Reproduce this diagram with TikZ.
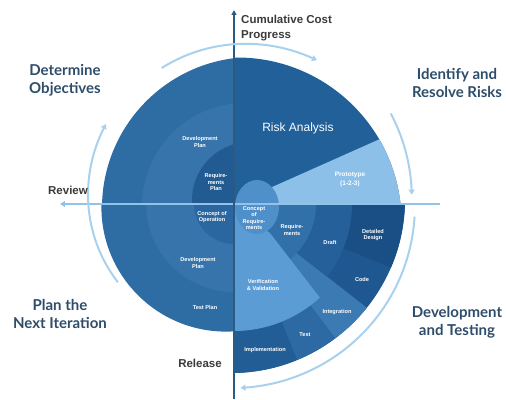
\documentclass[tikz,border=0pt]{standalone}
\usepackage{fontspec}
\setmainfont{Lato}
\newfontfamily\arial{Liberation Sans}
\usetikzlibrary{arrows.meta}
\definecolor{outerblue}{HTML}{2E6CA4}
\definecolor{bandblue}{HTML}{3674AB}
\definecolor{darkblue}{HTML}{225B92}
\definecolor{darkblueb}{HTML}{2A66A0}
\definecolor{riskblue}{HTML}{22609A}
\definecolor{protoblue}{HTML}{8CC0E8}
\definecolor{codeblue}{HTML}{1F5890}
\definecolor{ddblue}{HTML}{1A4F85}
\definecolor{intblue}{HTML}{3C7AB3}
\definecolor{testblue}{HTML}{2D69A2}
\definecolor{implblue}{HTML}{235D96}
\definecolor{draftblue}{HTML}{25609A}
\definecolor{reqblue}{HTML}{3270A9}
\definecolor{vvblue}{HTML}{5C9CD4}
\definecolor{conblue}{HTML}{4F8FCA}
\definecolor{axisblue}{HTML}{92C3E6}
\definecolor{vaxis}{HTML}{2B5A85}
\definecolor{arcblue}{HTML}{A8D1EE}
\definecolor{headblue}{HTML}{2E4D6B}
\definecolor{labelgrey}{HTML}{3A3A3A}
\newcommand{\wedgeclip}[2]{\clip (0,0) -- (#1:400) -- ({(#1+#2)/2}:400) -- (#2:400) -- cycle;}
\begin{document}
\begin{tikzpicture}[x=1pt,y=1pt,
  inner/.style={text=white, font=\arial\bfseries\fontsize{5.6}{6.6}\selectfont, align=center, inner sep=0pt},
  heading/.style={text=headblue, font=\bfseries\fontsize{15}{18}\selectfont, align=center, inner sep=0pt},
  darklabel/.style={text=labelgrey, font=\arial\bfseries\fontsize{11.5}{15}\selectfont, inner sep=0pt},
  guide/.style={draw=arcblue, line width=2pt, -{Triangle[length=5pt,width=6pt]}},
]
\useasboundingbox (-234,-195) rectangle (272,204);
% top-left quadrant
\begin{scope}
\clip (-240,0) rectangle (0,210);
\fill[outerblue] (19,-4) circle[radius=151];
\fill[bandblue] (11,-2) circle[radius=103];
\fill[darkblue] (16,4) circle[radius=58];
\end{scope}
% bottom-left quadrant
\begin{scope}
\clip (-240,0) rectangle (0,-200);
\fill[outerblue] (-8,-3) circle[radius=124.6];
\fill[bandblue] (0,0) circle[radius=88];
\fill[darkblueb] (0,0) circle[radius=40];
\end{scope}
% top-right quadrant
\begin{scope}
\clip (0,0) rectangle (280,210);
\fill[riskblue] (3,-18) circle[radius=164.5];
\clip (0,0) -- (300,0) -- (24:400) -- cycle;
\fill[protoblue] (3,-18) circle[radius=164.5];
\end{scope}
% bottom-right quadrant
\begin{scope}
\clip (0,0) rectangle (280,-200);
\fill[codeblue] (-3,5) circle[radius=174];
\begin{scope}\wedgeclip{0}{-22}\fill[ddblue] (-3,5) circle[radius=174];\end{scope}
\begin{scope}\wedgeclip{-38}{-53}\fill[intblue] (-3,5) circle[radius=174];\end{scope}
\begin{scope}\wedgeclip{-53}{-68}\fill[testblue] (-3,5) circle[radius=174];\end{scope}
\begin{scope}\wedgeclip{-68}{-90}\fill[implblue] (-3,5) circle[radius=174];\end{scope}
\begin{scope}\wedgeclip{0}{-38}\fill[draftblue] (0,0) circle[radius=118];\end{scope}
\begin{scope}\wedgeclip{0}{-60}\fill[reqblue] (10,0) circle[radius=72];\end{scope}
\fill[vvblue] (0,-3) -- (36,-29) -- (-47.5:127) arc[start angle=-47.5, end angle=-90, radius=127] -- cycle;
\end{scope}
\begin{scope}
\clip (0,-60) rectangle (60,40);
\fill[conblue] (23,-3) ellipse[x radius=22, y radius=27];
\end{scope}
% axes
\draw[axisblue, line width=1.5pt, -{Triangle[length=5pt,width=6pt]}] (206,0) -- (-174,0);
\draw[vaxis, line width=1.2pt, {Triangle[length=5pt,width=5pt]}-] (0,194) -- (0,-195);
% guide arcs
\draw[guide] plot[domain=214:148, samples=40, smooth] (\x:{140+(214-\x)/66*11});
\draw[guide] plot[domain=118:60, samples=40, smooth] (\x:{154+(118-\x)/58*12});
\draw[guide] plot[domain=30:3, samples=30, smooth] (\x:{181-(30-\x)/27*3});
\draw[guide] plot[domain=-4:-88, samples=50, smooth] (\x:{181+(-4-\x)/84*3});
% outside labels
\node[darklabel, anchor=west, align=left] (cost) at (7,176) {Cumulative Cost\\Progress};
\node[heading] (det) at (-169,124) {Determine\\Objectives};
\node[heading] (ide) at (223,121) {Identify and\\Resolve Risks};
\node[darklabel] (rev) at (-166,14) {Review};
\node[heading] (plan) at (-174,-110) {Plan the\\Next Iteration};
\node[darklabel] (rel) at (-34,-159) {Release};
\node[heading] (dev) at (223,-118) {Development\\and Testing};
% inner labels
\node[text=white, font=\arial\fontsize{12}{14}\selectfont] (risk) at (64,76) {Risk Analysis};
\node[inner, font=\arial\bfseries\fontsize{6.5}{9}\selectfont] (proto) at (116,25) {Prototype\\(1-2-3)};
\node[inner] (dp1) at (-34,62) {Development\\Plan};
\node[inner] (rp) at (-18,22) {Require-\\ments\\Plan};
\node[inner] (co) at (-22,-13) {Concept of\\Operation};
\node[inner] (dp2) at (-36,-59) {Development\\Plan};
\node[inner] (tp) at (-29,-103) {Test Plan};
\node[inner] (cr) at (20,-14) {Concept\\of\\Require-\\ments};
\node[inner] (req) at (58,-26) {Require-\\ments};
\node[inner] (dr) at (96,-38) {Draft};
\node[inner] (dd) at (139,-31) {Detailed\\Design};
\node[inner] (code) at (128,-75) {Code};
\node[inner] (vv) at (29,-81) {Verification\\\& Validation};
\node[inner] (int) at (103,-108) {Integration};
\node[inner] (tst) at (71,-131) {Test};
\node[inner] (imp) at (31,-146) {Implementation};
\end{tikzpicture}
\end{document}
